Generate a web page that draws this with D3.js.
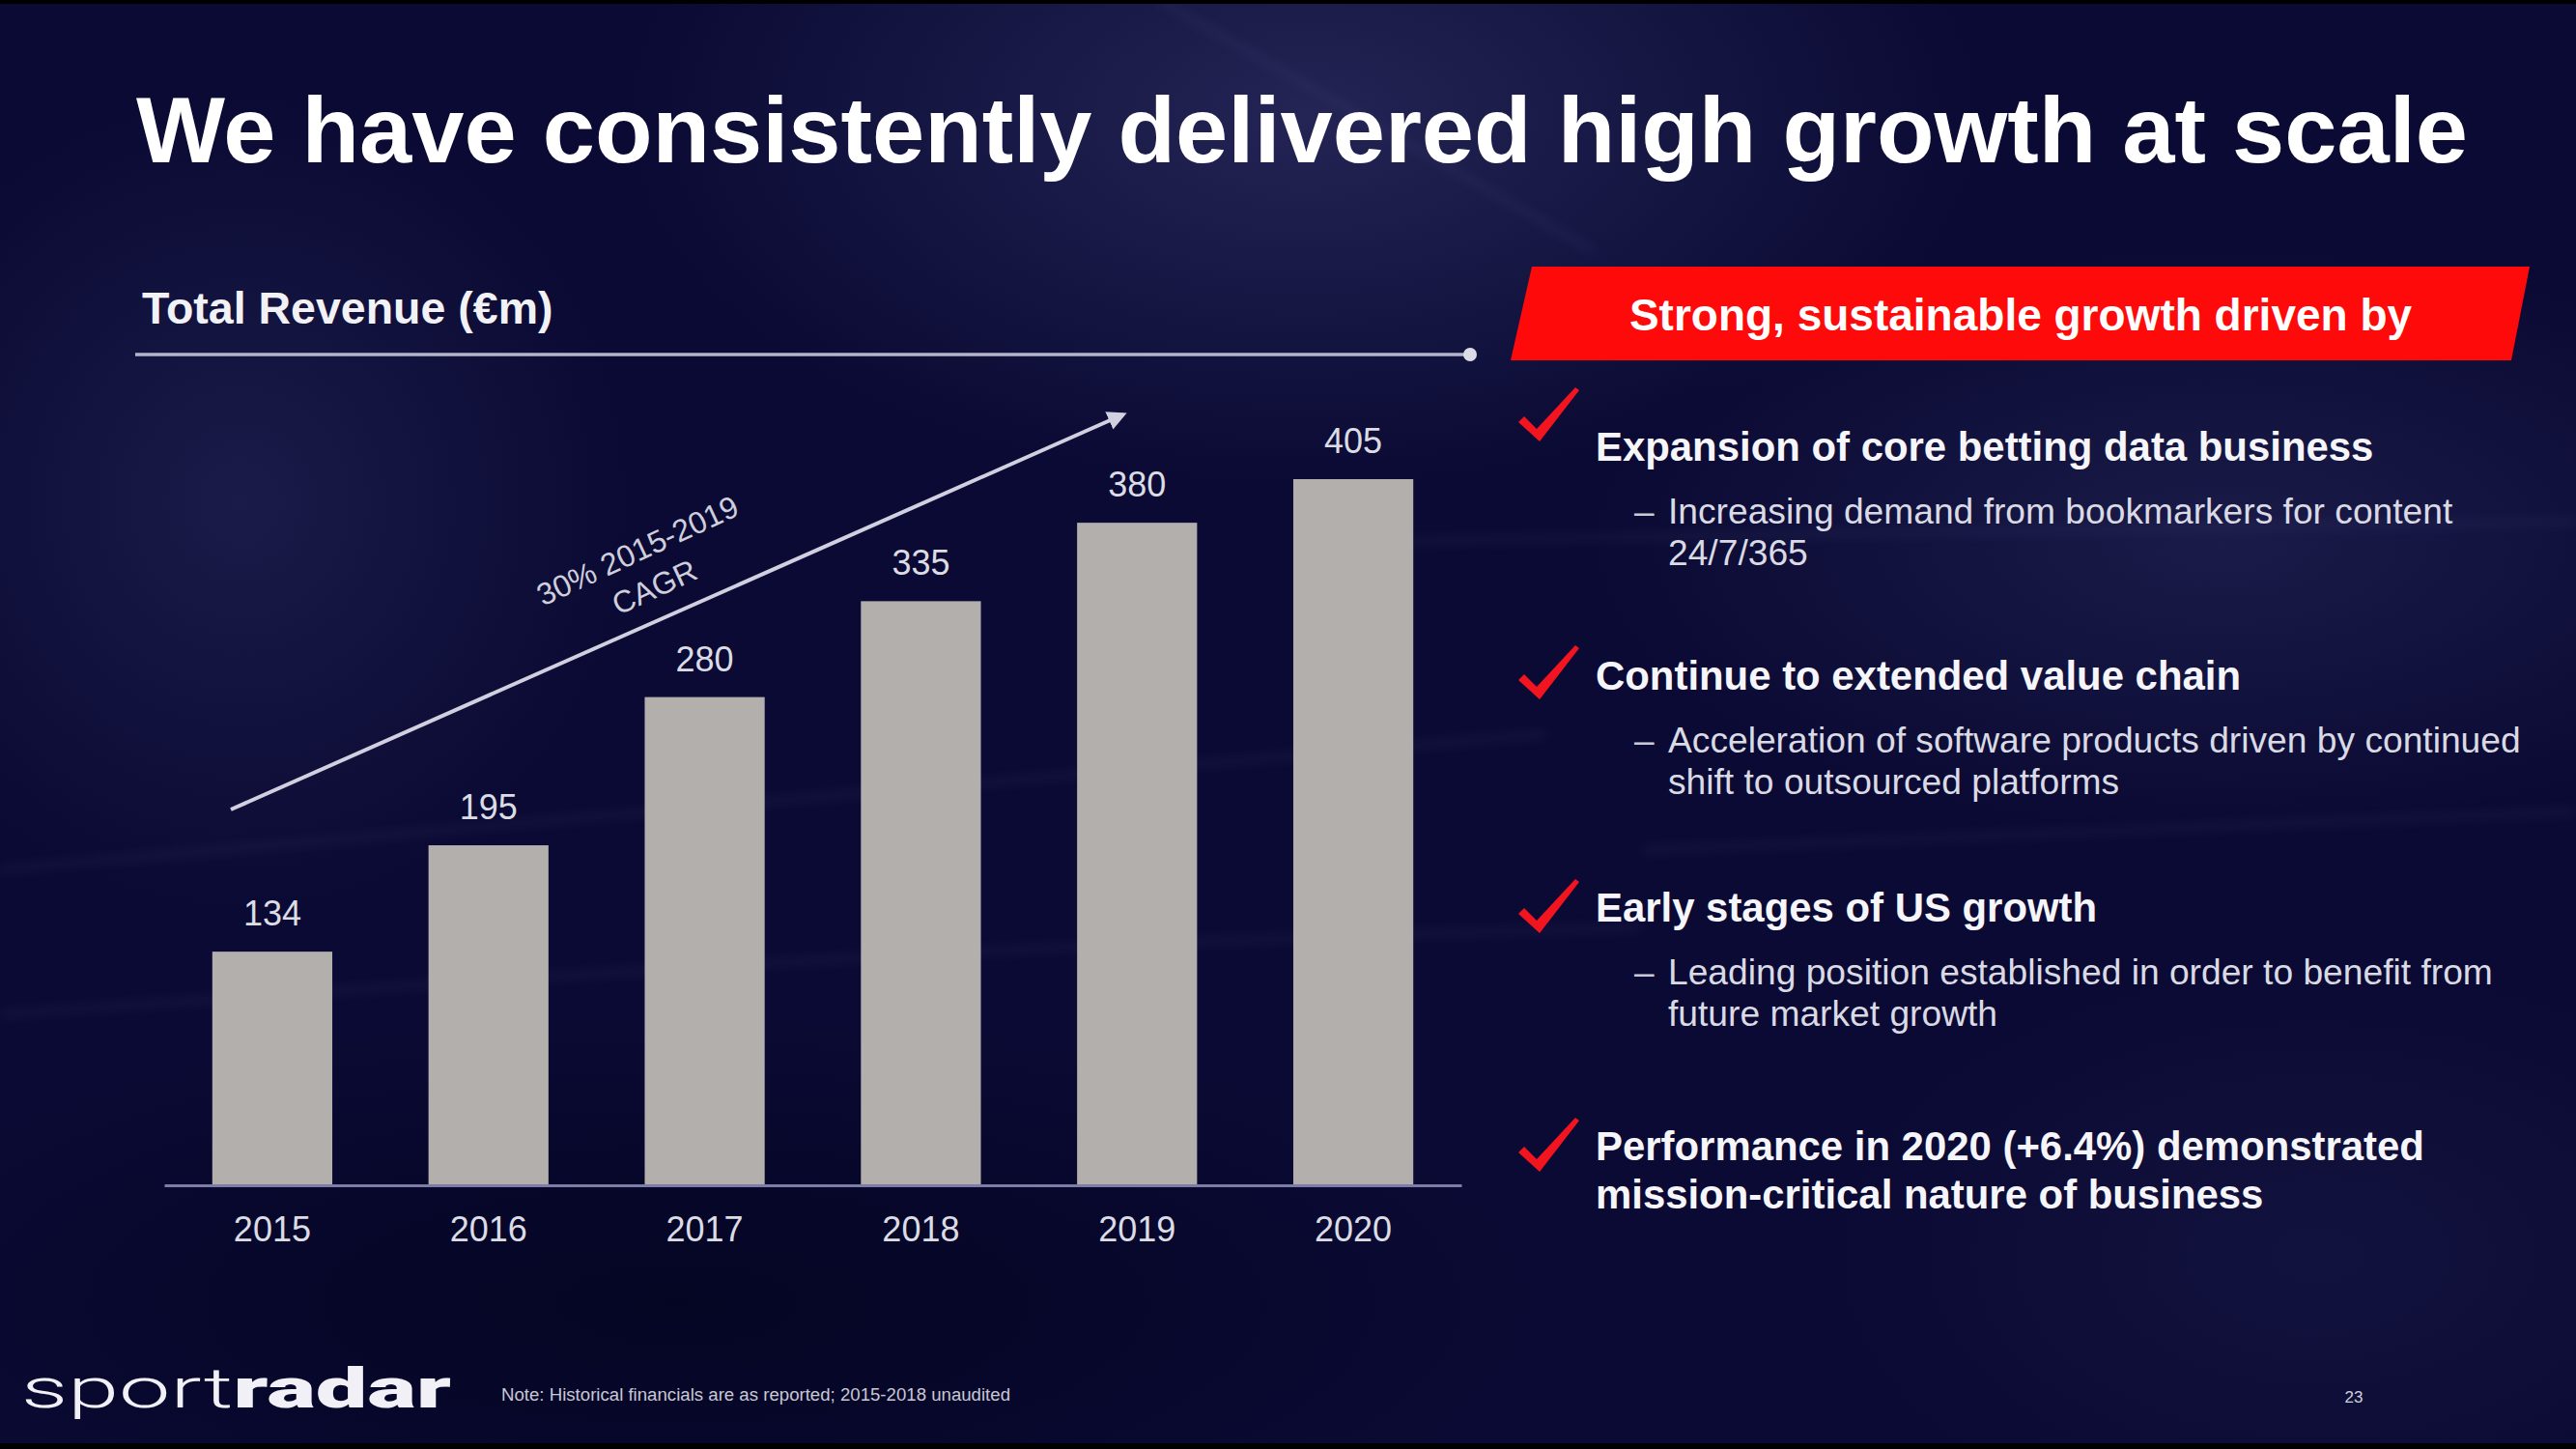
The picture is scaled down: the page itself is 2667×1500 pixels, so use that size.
<!DOCTYPE html>
<html>
<head>
<meta charset="utf-8">
<script src="https://cdn.jsdelivr.net/npm/d3@7"></script>
<style>
  html, body { margin: 0; padding: 0; background: #000; }
  svg { display: block; }
</style>
</head>
<body>
<svg id="chart" width="2667" height="1500"></svg>
<script>
// ---- Data ----
const categories = ["2015", "2016", "2017", "2018", "2019", "2020"];
const revenue = [134, 195, 280, 335, 380, 405];
const chartTitle = "We have consistently delivered high growth at scale";
const chartSubtitle = "Total Revenue (€m)";
const cagrLines = ["30% 2015-2019", "CAGR"];
const bannerText = "Strong, sustainable growth driven by";
const bulletHeads = [
  ["Expansion of core betting data business"],
  ["Continue to extended value chain"],
  ["Early stages of US growth"],
  ["Performance in 2020 (+6.4%) demonstrated", "mission-critical nature of business"]
];
const bulletSubs = [
  ["Increasing demand from bookmarkers for content", "24/7/365"],
  ["Acceleration of software products driven by continued", "shift to outsourced platforms"],
  ["Leading position established in order to benefit from", "future market growth"],
  []
];
const noteText = "Note: Historical financials are as reported; 2015-2018 unaudited";
const pageNumber = "23";

// ---- Setup ----
const svg = d3.select("#chart");
const W = 2667, H = 1500;
const FONT = "'Liberation Sans', Arial, Helvetica, sans-serif";
const defs = svg.append("defs");

// Background
const bg = svg.append("g");
bg.append("rect").attr("width", W).attr("height", H).attr("fill", "#0a0a34");
function radial(id, stops) {
  const g = defs.append("radialGradient").attr("id", id);
  stops.forEach(s => g.append("stop").attr("offset", s[0]).attr("stop-color", s[1]).attr("stop-opacity", s[2]));
}
radial("glowA", [[0, "#3a3a70", 0.55], [1, "#3a3a70", 0]]);
radial("glowB", [[0, "#2c2c5e", 0.5], [1, "#2c2c5e", 0]]);
radial("darkC", [[0, "#02021c", 0.7], [1, "#02021c", 0]]);
const filt = defs.append("filter").attr("id", "blur").attr("x", "-20%").attr("y", "-200%").attr("width", "140%").attr("height", "500%");
filt.append("feGaussianBlur").attr("stdDeviation", 6);
bg.append("ellipse").attr("cx", 1350).attr("cy", 120).attr("rx", 700).attr("ry", 380).attr("fill", "url(#glowA)");
bg.append("ellipse").attr("cx", 2300).attr("cy", 560).attr("rx", 650).attr("ry", 300).attr("fill", "url(#glowB)");
bg.append("ellipse").attr("cx", 250).attr("cy", 520).attr("rx", 400).attr("ry", 420).attr("fill", "url(#glowB)");
bg.append("ellipse").attr("cx", 700).attr("cy", 1350).attr("rx", 900).attr("ry", 300).attr("fill", "url(#darkC)");
bg.append("ellipse").attr("cx", 2400).attr("cy", 1300).attr("rx", 500).attr("ry", 300).attr("fill", "url(#glowB)").attr("opacity", 0.5);
// faint stadium light streaks
const streaks = [
  [[1450, 560], [2667, 540]],
  [[0, 900], [900, 820], [1600, 760]],
  [[0, 1050], [1000, 980], [1700, 960]],
  [[1700, 880], [2667, 840]],
  [[1200, 0], [1650, 260]]
];
streaks.forEach(pts => {
  bg.append("path").attr("d", d3.line().curve(d3.curveBasis)(pts))
    .attr("fill", "none").attr("stroke", "#5a5a90").attr("stroke-width", 4)
    .attr("opacity", 0.25).attr("filter", "url(#blur)");
});
bg.append("rect").attr("width", W).attr("height", 4).attr("fill", "#000");
bg.append("rect").attr("y", 1494).attr("width", W).attr("height", 6).attr("fill", "#000");

// Title
svg.append("text").attr("x", 141).attr("y", 168)
  .attr("font-family", FONT).attr("font-weight", "bold").attr("font-size", 97)
  .attr("fill", "#ffffff").attr("textLength", 2414).attr("lengthAdjust", "spacingAndGlyphs")
  .text(chartTitle);

// Subtitle + header rule
svg.append("text").attr("x", 147).attr("y", 335)
  .attr("font-family", FONT).attr("font-weight", "bold").attr("font-size", 46.5)
  .attr("fill", "#f2f2f6").text(chartSubtitle);
svg.append("line").attr("x1", 140).attr("x2", 1522).attr("y1", 367).attr("y2", 367)
  .attr("stroke", "#b4b4cc").attr("stroke-width", 3.5);
svg.append("circle").attr("cx", 1522).attr("cy", 367).attr("r", 7).attr("fill", "#dcdce6");

// ---- Bar chart ----
const x = d3.scaleBand().domain(categories).range([170, 1513]).paddingInner(0.445).paddingOuter(0.2225);
const y = d3.scaleLinear().domain([0, 405]).range([1227, 496]);

const chart = svg.append("g");
chart.selectAll("rect.bar").data(revenue).join("rect").attr("class", "bar")
  .attr("x", (d, i) => x(categories[i]))
  .attr("width", x.bandwidth())
  .attr("y", d => y(d))
  .attr("height", d => y(0) - y(d))
  .attr("fill", "#b2afad");

chart.selectAll("text.val").data(revenue).join("text").attr("class", "val")
  .attr("x", (d, i) => x(categories[i]) + x.bandwidth() / 2)
  .attr("y", d => y(d) - 27)
  .attr("text-anchor", "middle")
  .attr("font-family", FONT).attr("font-size", 36).attr("fill", "#dcdce4")
  .text(d => d);

const axis = chart.append("g").attr("transform", `translate(0,${y(0)})`)
  .call(d3.axisBottom(x).tickSize(0).tickSizeOuter(0).tickPadding(32));
axis.select(".domain").attr("stroke", "#7c7ca6").attr("stroke-width", 3);
axis.selectAll("text").attr("font-family", FONT).attr("font-size", 36).attr("fill", "#dcdce4");

// CAGR arrow
const marker = defs.append("marker").attr("id", "arrowhead")
  .attr("viewBox", "0 0 10 10").attr("refX", 8).attr("refY", 5)
  .attr("markerWidth", 5).attr("markerHeight", 5).attr("orient", "auto");
marker.append("path").attr("d", "M0,0 L10,5 L0,10 z").attr("fill", "#d0d0e0");
svg.append("line").attr("x1", 239).attr("y1", 838).attr("x2", 1163).attr("y2", 429)
  .attr("stroke", "#d0d0e0").attr("stroke-width", 4).attr("marker-end", "url(#arrowhead)");
const cg = svg.append("g").attr("transform", "translate(660,570) rotate(-25)");
cg.selectAll("text").data(cagrLines).join("text")
  .attr("x", 0).attr("y", (d, i) => 11 + i * 41.6)
  .attr("text-anchor", "middle").attr("font-family", FONT).attr("font-size", 32)
  .attr("fill", "#cfcfdc").text(d => d);

// ---- Right panel ----
svg.append("path")
  .attr("d", "M1586,276 L2619,276 L2600,373 L1564,373 Z")
  .attr("fill", "#ff0a0a");
svg.append("text").attr("x", 2092).attr("y", 342).attr("text-anchor", "middle")
  .attr("font-family", FONT).attr("font-weight", "bold").attr("font-size", 46)
  .attr("fill", "#ffffff").text(bannerText);

const headBase = [477, 714, 954, 1201];
const checkOffset = [-22, 8, 10, 10];
const checkPath = "M-19,-18 L-13,-24 L0,-11 L40,-54 L44,-51 L3,2 Z";
bulletHeads.forEach((lines, i) => {
  svg.append("path").attr("d", checkPath)
    .attr("transform", `translate(1591,${headBase[i] + checkOffset[i]})`)
    .attr("fill", "#f2141e");
  lines.forEach((t, j) => {
    svg.append("text").attr("x", 1652).attr("y", headBase[i] + j * 50)
      .attr("font-family", FONT).attr("font-weight", "bold").attr("font-size", 41.9)
      .attr("fill", "#f6f6fa").text(t);
  });
  bulletSubs[i].forEach((t, j) => {
    const yy = headBase[i] + 65 + j * 43;
    if (j === 0) {
      svg.append("text").attr("x", 1692).attr("y", yy)
        .attr("font-family", FONT).attr("font-size", 37).attr("fill", "#c9c9d6").text("–");
    }
    svg.append("text").attr("x", 1727).attr("y", yy)
      .attr("font-family", FONT).attr("font-size", 37.2).attr("fill", "#dadae4").text(t);
  });
});

// ---- Footer ----
const logo = svg.append("text").attr("x", 22).attr("y", 1457)
  .attr("font-family", "Roboto, 'DejaVu Sans', sans-serif").attr("font-size", 58)
  .attr("fill", "#f0f0f6").attr("textLength", 445).attr("lengthAdjust", "spacingAndGlyphs");
logo.append("tspan").attr("font-weight", 300).text("sport");
logo.append("tspan").attr("font-weight", 900).text("radar");

svg.append("text").attr("x", 519).attr("y", 1450)
  .attr("font-family", FONT).attr("font-size", 18).attr("fill", "#c8c8d4")
  .attr("textLength", 527).attr("lengthAdjust", "spacingAndGlyphs").text(noteText);
svg.append("text").attr("x", 2437).attr("y", 1452).attr("text-anchor", "middle")
  .attr("font-family", FONT).attr("font-size", 17).attr("fill", "#d0d0dc").text(pageNumber);
</script>
</body>
</html>
